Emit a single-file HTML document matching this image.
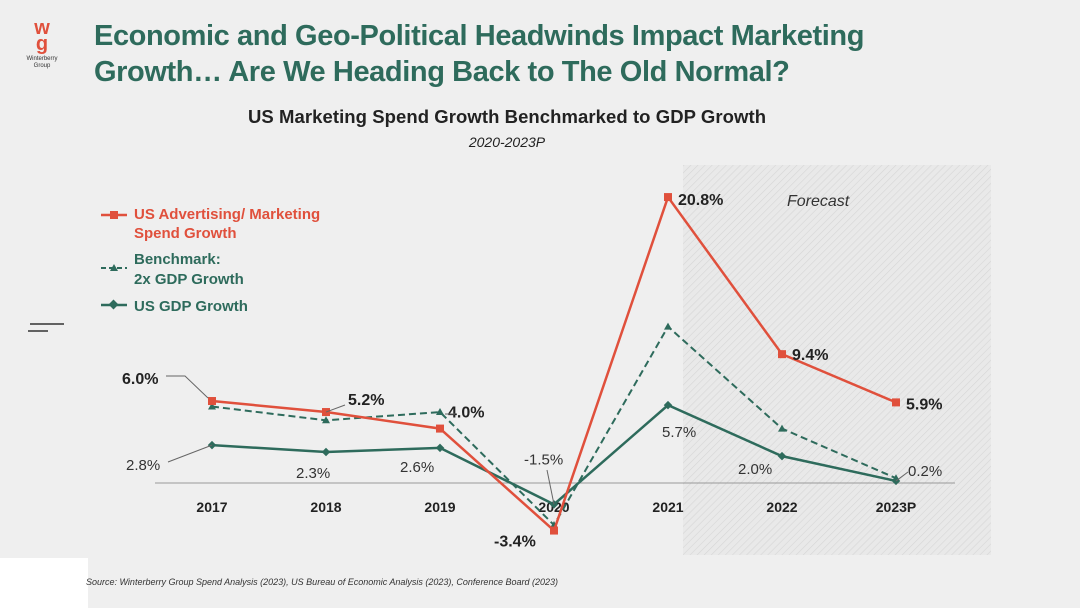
<!DOCTYPE html>
<html><head><meta charset="utf-8"><style>
body{margin:0;width:1080px;height:608px;background:#efefef;font-family:"Liberation Sans",sans-serif;overflow:hidden;position:relative}
.t{position:absolute;left:94px;top:18px;font-size:29px;font-weight:bold;color:#2e6b5c;line-height:36px;letter-spacing:-0.4px}
</style></head><body>
<div style="position:absolute;left:22px;top:20px;width:40px;text-align:center">
<div style="color:#e0503c;font-weight:bold;font-size:20px;line-height:16px">w<br>g</div>
<div style="font-size:6px;color:#333;line-height:7px;margin-top:4px">Winterberry<br>Group</div></div>
<div class="t">Economic and Geo-Political Headwinds Impact Marketing<br>Growth… Are We Heading Back to The Old Normal?</div>
<div style="position:absolute;left:0;top:558px;width:88px;height:50px;background:#fff"></div>
<div style="position:absolute;left:86px;top:577px;font-size:9px;font-style:italic;color:#333">Source: Winterberry Group Spend Analysis (2023), US Bureau of Economic Analysis (2023), Conference Board (2023)</div>
<svg width="1080" height="608" style="position:absolute;left:0;top:0">
<defs><pattern id="h" width="5" height="5" patternUnits="userSpaceOnUse" patternTransform="rotate(45)"><rect width="5" height="5" fill="#e9e9e9"/><line x1="0" y1="0" x2="0" y2="5" stroke="#d6d6d6" stroke-width="1.2"/></pattern></defs>
<rect x="683" y="165" width="308" height="390" fill="url(#h)"/>
<text x="787" y="206" font-size="16" font-style="italic" fill="#333">Forecast</text>
<text x="507" y="123" text-anchor="middle" font-size="18.5" font-weight="bold" fill="#222" textLength="518">US Marketing Spend Growth Benchmarked to GDP Growth</text>
<text x="507" y="147" text-anchor="middle" font-size="14" font-style="italic" fill="#222">2020-2023P</text>
<line x1="30" y1="324" x2="64" y2="324" stroke="#333" stroke-width="1.5"/>
<line x1="28" y1="331" x2="48" y2="331" stroke="#333" stroke-width="1.5"/>
<line x1="155" y1="483" x2="955" y2="483" stroke="#999" stroke-width="1"/>
<g id="legend" font-size="15" font-weight="bold">
<line x1="101" y1="215" x2="127" y2="215" stroke="#e0503c" stroke-width="2.5"/><rect x="110" y="211" width="8" height="8" fill="#e0503c"/>
<text x="134" y="219" fill="#e0503c">US Advertising/ Marketing</text>
<text x="134" y="238" fill="#e0503c">Spend Growth</text>
<line x1="101" y1="268" x2="127" y2="268" stroke="#2e6b5c" stroke-width="2" stroke-dasharray="5,3"/><polygon points="114,264 118,271 110,271" fill="#2e6b5c"/>
<text x="134" y="264" fill="#2e6b5c">Benchmark:</text>
<text x="134" y="284" fill="#2e6b5c">2x GDP Growth</text>
<line x1="101" y1="305" x2="127" y2="305" stroke="#2e6b5c" stroke-width="2.5"/><rect x="110" y="301" width="7" height="7" fill="#2e6b5c" transform="rotate(45 113.5 304.5)"/>
<text x="134" y="311" fill="#2e6b5c">US GDP Growth</text>
</g>
<g id="plot"></g>
</svg>
<script>
const years=["2017","2018","2019","2020","2021","2022","2023P"];
const adSpend=[6.0,5.2,4.0,-3.4,20.8,9.4,5.9];
const gdp=[2.8,2.3,2.6,-1.5,5.7,2.0,0.2];
const benchmark=[5.6,4.6,5.2,-3.0,11.4,4.0,0.4];
const adLabels=["6.0%","5.2%","4.0%","-3.4%","20.8%","9.4%","5.9%"];
const gdpLabels=["2.8%","2.3%","2.6%","-1.5%","5.7%","2.0%","0.2%"];
const X=i=>212+i*114, Y=v=>483.7-v*13.78;
const g=document.getElementById('plot'),NS="http://www.w3.org/2000/svg";
function mk(t,a,name){const e=document.createElementNS(NS,t);for(const k in a)e.setAttribute(k,a[k]);


g.appendChild(e);return e;}
years.forEach((y,i)=>{const t=mk('text',{x:X(i),y:512,'text-anchor':'middle','font-size':14,'font-weight':'bold',fill:'#222'},'x-tick-'+y);t.textContent=y;});
const pts=a=>a.map((v,i)=>X(i)+','+Y(v)).join(' ');
mk('polyline',{points:pts(benchmark),fill:'none',stroke:'#2e6b5c','stroke-width':2,'stroke-dasharray':'7,4'},'benchmark-line');
benchmark.forEach((v,i)=>mk('polygon',{points:`${X(i)},${Y(v)-4} ${X(i)+4},${Y(v)+3} ${X(i)-4},${Y(v)+3}`,fill:'#2e6b5c'},'benchmark-point'));
mk('polyline',{points:pts(gdp),fill:'none',stroke:'#2e6b5c','stroke-width':2.5},'gdp-line');
gdp.forEach((v,i)=>mk('rect',{x:X(i)-3,y:Y(v)-3,width:6,height:6,fill:'#2e6b5c',transform:`rotate(45 ${X(i)} ${Y(v)})`},'gdp-point'));
mk('polyline',{points:pts(adSpend),fill:'none',stroke:'#e0503c','stroke-width':2.5},'ad-line');
adSpend.forEach((v,i)=>mk('rect',{x:X(i)-4,y:Y(v)-4,width:8,height:8,fill:'#e0503c'},'ad-point'));
const adOff=[[-90,-17],[22,-7],[8,-11],[-60,16],[10,8],[10,6],[10,7]];
adLabels.forEach((l,i)=>{const t=mk('text',{x:X(i)+adOff[i][0],y:Y(adSpend[i])+adOff[i][1],'font-size':16,'font-weight':'bold',fill:'#222'},'ad-label');t.textContent=l;});
const gOff=[[-86,25],[-30,26],[-40,24],[-30,-40],[-6,32],[-44,18],[12,-5]];
gdpLabels.forEach((l,i)=>{const t=mk('text',{x:X(i)+gOff[i][0],y:Y(gdp[i])+gOff[i][1],'font-size':15,fill:'#333'},'gdp-label');t.textContent=l;});
mk('polyline',{points:`166,376 185,376 ${X(0)-4},${Y(6)-3}`,fill:'none',stroke:'#666'},'leader');
mk('polyline',{points:`345,405 ${X(1)},${Y(5.2)}`,fill:'none',stroke:'#666'},'leader');
mk('polyline',{points:`445,414 ${X(2)+15},${Y(5.2)+2}`,fill:'none',stroke:'#666'},'leader');
mk('polyline',{points:`168,462 ${X(0)},${Y(2.8)}`,fill:'none',stroke:'#666'},'leader');
mk('polyline',{points:`547,470 ${X(3)},${Y(-1.5)}`,fill:'none',stroke:'#666'},'leader');
mk('polyline',{points:`908,472 ${X(6)},${Y(0.2)}`,fill:'none',stroke:'#666'},'leader');
</script>
</body></html>
